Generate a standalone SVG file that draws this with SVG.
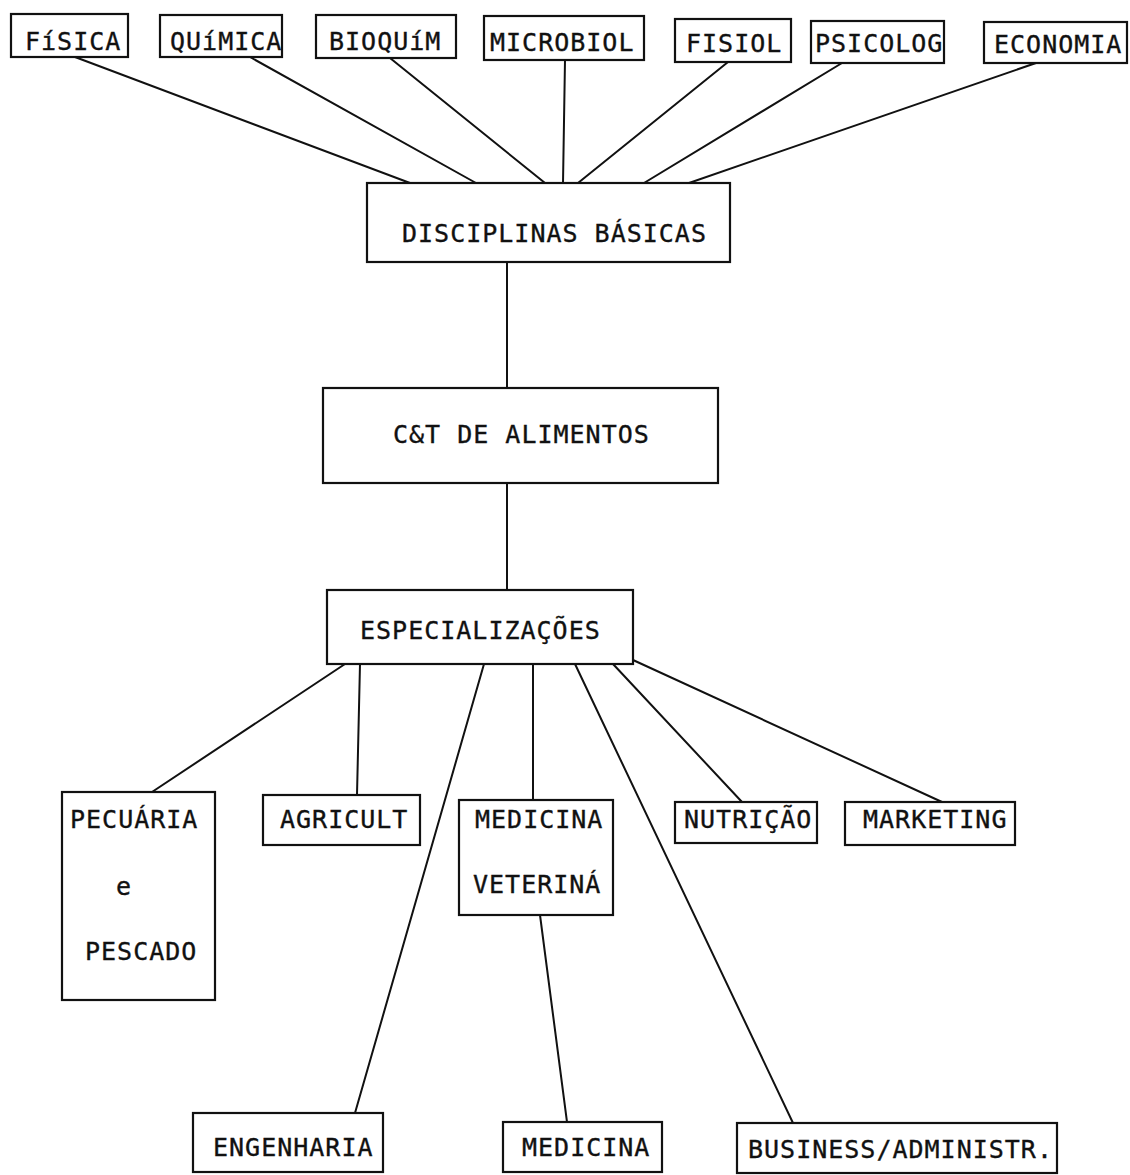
<svg xmlns="http://www.w3.org/2000/svg" width="1130" height="1175" viewBox="0 0 1130 1175">
<style>
.box{fill:#fff;stroke:#111;stroke-width:2.2}
.lbl{font-family:"DejaVu Sans Mono","Liberation Mono",monospace;font-size:25px;letter-spacing:1px;fill:#111;stroke:#111;stroke-width:0.35}
.edge{stroke:#111;stroke-width:2;fill:none;stroke-linecap:round}
</style>
<rect width="1130" height="1175" fill="#fff"/>
<g id="connectors">
<line class="edge" x1="75" y1="57" x2="410" y2="183"/>
<line class="edge" x1="250" y1="57" x2="476" y2="183"/>
<line class="edge" x1="390" y1="58" x2="545" y2="183"/>
<line class="edge" x1="565" y1="60" x2="563" y2="183"/>
<line class="edge" x1="728" y1="62" x2="578" y2="183"/>
<line class="edge" x1="842" y1="63" x2="644" y2="183"/>
<line class="edge" x1="1036" y1="63" x2="689" y2="183"/>
<line class="edge" x1="507" y1="262" x2="507" y2="388"/>
<line class="edge" x1="507" y1="483" x2="507" y2="590"/>
<line class="edge" x1="345" y1="664" x2="152" y2="792"/>
<line class="edge" x1="360" y1="664" x2="357" y2="795"/>
<line class="edge" x1="484" y1="664" x2="355" y2="1113"/>
<line class="edge" x1="533" y1="664" x2="533" y2="800"/>
<line class="edge" x1="575" y1="664" x2="793" y2="1123"/>
<line class="edge" x1="613" y1="664" x2="742" y2="802"/>
<line class="edge" x1="633" y1="660" x2="942" y2="802"/>
<line class="edge" x1="540" y1="915" x2="567" y2="1122"/>
</g>
<g id="fisica"><rect class="box" x="11" y="14" width="117" height="43"/><text class="lbl" x="25" y="50">FíSICA</text></g>
<g id="quimica"><rect class="box" x="160" y="15" width="122" height="42"/><text class="lbl" x="170" y="50">QUíMICA</text></g>
<g id="bioquim"><rect class="box" x="316" y="15" width="140" height="43"/><text class="lbl" x="329" y="50">BIOQUíM</text></g>
<g id="microbiol"><rect class="box" x="484" y="16" width="160" height="44"/><text class="lbl" x="490" y="51">MICROBIOL</text></g>
<g id="fisiol"><rect class="box" x="675" y="19" width="116" height="43"/><text class="lbl" x="686" y="52">FISIOL</text></g>
<g id="psicolog"><rect class="box" x="811" y="21" width="133" height="42"/><text class="lbl" x="815" y="52">PSICOLOG</text></g>
<g id="economia"><rect class="box" x="984" y="22" width="143" height="41"/><text class="lbl" x="994" y="53">ECONOMIA</text></g>
<g id="disciplinas"><rect class="box" x="367" y="183" width="363" height="79"/><text class="lbl" x="402" y="242">DISCIPLINAS BÁSICAS</text></g>
<g id="ct-alimentos"><rect class="box" x="323" y="388" width="395" height="95"/><text class="lbl" x="393" y="443">C&amp;T DE ALIMENTOS</text></g>
<g id="especializacoes"><rect class="box" x="327" y="590" width="306" height="74"/><text class="lbl" x="360" y="639">ESPECIALIZAÇÕES</text></g>
<g id="pecuaria"><rect class="box" x="62" y="792" width="153" height="208"/><text class="lbl" x="70" y="828">PECUÁRIA</text><text class="lbl" x="116" y="895">e</text><text class="lbl" x="85" y="960">PESCADO</text></g>
<g id="agricult"><rect class="box" x="263" y="795" width="157" height="50"/><text class="lbl" x="280" y="828">AGRICULT</text></g>
<g id="medvet"><rect class="box" x="459" y="800" width="154" height="115"/><text class="lbl" x="475" y="828">MEDICINA</text><text class="lbl" x="473" y="893">VETERINÁ</text></g>
<g id="nutricao"><rect class="box" x="675" y="802" width="142" height="41"/><text class="lbl" x="684" y="828">NUTRIÇÃO</text></g>
<g id="marketing"><rect class="box" x="845" y="802" width="170" height="43"/><text class="lbl" x="863" y="828">MARKETING</text></g>
<g id="engenharia"><rect class="box" x="193" y="1113" width="190" height="59"/><text class="lbl" x="213" y="1156">ENGENHARIA</text></g>
<g id="medicina"><rect class="box" x="503" y="1122" width="159" height="50"/><text class="lbl" x="522" y="1156">MEDICINA</text></g>
<g id="business"><rect class="box" x="737" y="1123" width="320" height="50"/><text class="lbl" x="748" y="1158">BUSINESS/ADMINISTR.</text></g>
</svg>
